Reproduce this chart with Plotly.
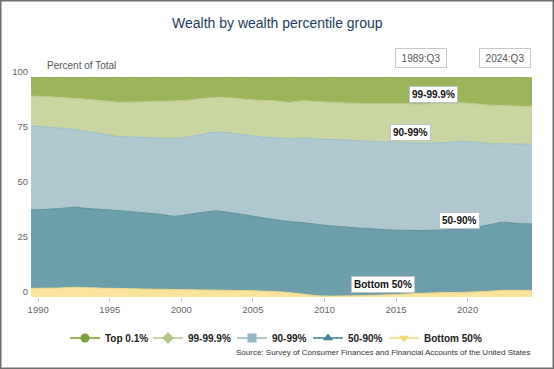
import plotly.graph_objects as go

# Dates (year + quarter fraction, Q3 readings)
dates = [1989.5 + i for i in range(36)]

# Shares of total wealth, percent
bottom50 = [3.9, 4.0, 4.1, 4.4, 4.2, 4.0, 3.9, 3.7, 3.6, 3.5,
            3.4, 3.3, 3.2, 3.1, 3.0, 2.9, 2.7, 2.5, 2.0, 1.3,
            0.6, 0.4, 0.5, 0.6, 0.8, 1.0, 1.3, 1.6, 1.8, 2.0,
            2.1, 2.3, 2.6, 3.0, 3.0, 3.0]
p50_90 = [35.6, 35.8, 36.1, 36.4, 36.0, 35.8, 35.4, 35.1, 34.6, 34.1,
          33.3, 34.2, 35.3, 36.0, 35.3, 34.4, 33.5, 32.7, 32.3, 32.5,
          32.4, 31.9, 31.3, 30.7, 30.1, 29.5, 29.0, 28.6, 28.5, 28.5,
          28.9, 29.2, 30.2, 31.0, 30.4, 30.2]
p90_99 = [38.3, 37.5, 36.6, 35.4, 35.0, 34.4, 33.7, 34.0, 34.3, 34.7,
          35.4, 35.3, 35.5, 35.9, 36.2, 36.3, 36.6, 37.2, 37.7, 38.5,
          38.8, 39.3, 39.6, 39.7, 39.8, 40.0, 39.9, 39.8, 39.7, 39.7,
          39.8, 39.0, 36.8, 35.7, 36.1, 36.2]
p99_999 = [13.6, 13.7, 13.9, 14.1, 14.6, 15.0, 15.6, 15.8, 16.3, 16.7,
           17.0, 16.7, 16.2, 15.8, 16.0, 16.3, 16.6, 16.8, 16.5, 16.9,
           17.0, 16.9, 16.8, 17.0, 17.3, 17.4, 17.6, 17.7, 17.8, 17.8,
           17.5, 17.3, 17.6, 17.3, 17.3, 17.1]
top01 = [8.6, 9.0, 9.3, 9.7, 10.2, 10.8, 11.4, 11.4, 11.2, 11.0,
         10.9, 10.5, 9.8, 9.2, 9.5, 10.1, 10.6, 10.8, 11.5, 10.8,
         11.2, 11.5, 11.8, 12.0, 12.0, 12.1, 12.2, 12.3, 12.2, 12.0,
         11.7, 12.2, 12.8, 13.0, 13.2, 13.5]

group_names = ["Bottom 50%", "50-90%", "90-99%", "99-99.9%", "Top 0.1%"]
group_values = [bottom50, p50_90, p90_99, p99_999, top01]

x_ticks = [1990, 1995, 2000, 2005, 2010, 2015, 2020]
y_ticks = [0, 25, 50, 75, 100]
start_label = "1989:Q3"
end_label = "2024:Q3"

fill_colors = {"Bottom 50%": "#fae39d", "50-90%": "#6c9fab", "90-99%": "#aec8cf",
               "99-99.9%": "#c9d6a1", "Top 0.1%": "#9cb45a"}
line_colors = {"Bottom 50%": "#f3d889", "50-90%": "#5b8f9c", "90-99%": "#9dbdc6",
               "99-99.9%": "#bccb8f", "Top 0.1%": "#9cb45a"}
legend_marker = {"Top 0.1%": ("circle", "#7e9d3c", "#9cb45a", 38),
                 "99-99.9%": ("diamond", "#b4c583", "#c9d6a1", 39),
                 "90-99%": ("square", "#93b6c2", "#aec8cf", 31),
                 "50-90%": ("triangle-up", "#3f8496", "#6c9fab", 31),
                 "Bottom 50%": ("triangle-down", "#f6d77a", "#fae39d", 56)}

FONT = "Arial, Liberation Sans, sans-serif"
W, H = 554, 369
ML, MR, MT, MB = 31, 22, 77, 72
PW, PH = W - ML - MR, H - MT - MB

def px_x(p):
    return (p - ML) / PW

def px_y(p):
    return (H - MB - p) / PH

fig = go.Figure()
for name, vals in zip(group_names, group_values):
    fig.add_trace(go.Scatter(
        x=dates, y=vals, name=name, mode="lines", stackgroup="one",
        line=dict(color=line_colors[name], width=1, shape="spline", smoothing=0.6),
        fillcolor=fill_colors[name], showlegend=False, hoverinfo="x+y+name"))

for name in ["Top 0.1%", "99-99.9%", "90-99%", "50-90%", "Bottom 50%"]:
    sym, mcol, lcol, lw = legend_marker[name]
    fig.add_trace(go.Scatter(
        x=[None], y=[None], name=name, mode="lines+markers", legendwidth=lw,
        line=dict(color=lcol, width=2),
        marker=dict(symbol=sym, color=mcol, size=9), showlegend=True))

# Labels on the bands
label_pos = {"99-99.9%": (2017.6, 92.0), "90-99%": (2016.0, 74.9),
             "50-90%": (2019.4, 34.7), "Bottom 50%": (2014.1, 5.8)}
for text, (lx, ly) in label_pos.items():
    fig.add_annotation(x=lx, y=ly, xref="x", yref="y", text="<b>%s</b>" % text,
                       showarrow=False, font=dict(family=FONT, size=10, color="#111"),
                       bgcolor="white", bordercolor="#b8c4c8", borderwidth=1, borderpad=2)

# Title and other texts
fig.add_annotation(x=px_x(277), y=px_y(23), xref="paper", yref="paper",
                   xanchor="center", yanchor="middle",
                   text="Wealth by wealth percentile group", showarrow=False,
                   font=dict(family=FONT, size=14, color="#1d3b5e"))
fig.add_annotation(x=px_x(45), y=px_y(65), xref="paper", yref="paper",
                   xanchor="left", yanchor="middle",
                   text="Percent of Total", showarrow=False,
                   font=dict(family=FONT, size=10, color="#555"))
for lbl, cx in [(start_label, 420.5), (end_label, 505)]:
    fig.add_annotation(x=px_x(cx), y=px_y(58), xref="paper", yref="paper",
                       xanchor="center", yanchor="middle",
                       text=lbl, showarrow=False, width=46, height=14,
                       font=dict(family=FONT, size=10, color="#555"),
                       bgcolor="white", bordercolor="#c8c8c8", borderwidth=1, borderpad=2)
fig.add_annotation(x=px_x(532), y=px_y(353), xref="paper", yref="paper",
                   xanchor="right", yanchor="middle",
                   text="Source: Survey of Consumer Finances and Financial Accounts of the United States",
                   showarrow=False, font=dict(family=FONT, size=8, color="#333"))

# Outer frame
fig.add_shape(type="rect", xref="paper", yref="paper",
              x0=px_x(0.75), x1=px_x(W - 0.75), y0=px_y(H - 0.75), y1=px_y(0.75),
              line=dict(color="#6e6e6e", width=1.5), fillcolor="rgba(0,0,0,0)", layer="above")

fig.update_layout(
    width=W, height=H, autosize=False,
    margin=dict(l=ML, r=MR, t=MT, b=MB, autoexpand=False),
    paper_bgcolor="white", plot_bgcolor="white",
    font=dict(family=FONT, color="#555"),
    legend=dict(orientation="h", x=px_x(275), xanchor="center", y=px_y(338), yanchor="middle",
                font=dict(family=FONT, size=10, color="#222", weight="bold"),
                itemwidth=30, tracegroupgap=0, traceorder="normal", bgcolor="rgba(0,0,0,0)"),
    hovermode="x unified",
)
fig.update_xaxes(range=[1989.5, 2024.5], tickvals=x_ticks, ticktext=[str(t) for t in x_ticks],
                 showgrid=False, zeroline=False, ticks="outside", ticklen=4, tickcolor="#ccc",
                 showline=False, automargin=False, tickfont=dict(family=FONT, size=9.5, color="#666"))
fig.update_yaxes(range=[0, 100], tickvals=y_ticks, showgrid=False, zeroline=False,
                 ticks="", showline=False, ticklabelshift=-5, ticklabelstandoff=2, automargin=False,
                 tickfont=dict(family=FONT, size=9.5, color="#666"))

fig.write_html("out.html", config={"displayModeBar": False},
               post_script="document.body.style.margin='0';")
